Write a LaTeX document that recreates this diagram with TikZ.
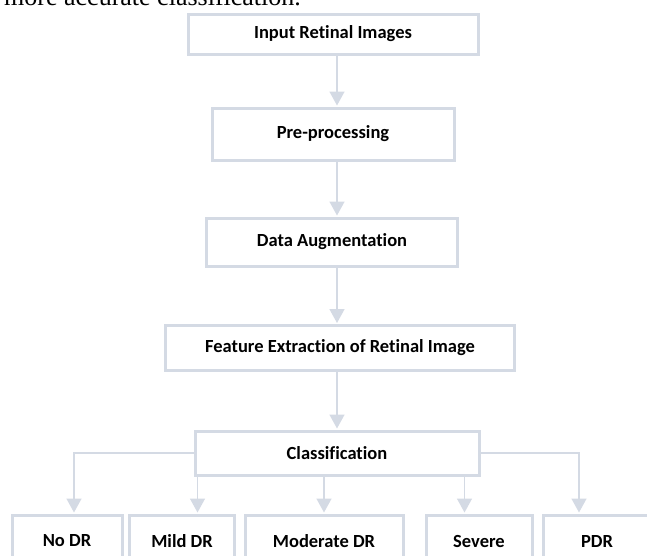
\documentclass[tikz,border=0pt]{standalone}
\usepackage{fontspec}
\setmainfont{Carlito}[Ligatures=NoCommon]
\newfontfamily\leadfont{Liberation Serif}
\usetikzlibrary{arrows.meta}
\definecolor{boxline}{RGB}{212,218,228}
\tikzset{
  stage/.style={draw=boxline, line width=3pt, inner sep=0pt,
    font=\fontsize{18.5}{22}\selectfont\bfseries},
  flow/.style={draw=boxline, line width=1.5pt,
    -{Triangle[width=15pt,length=14pt]}, shorten >=1pt}
}
\begin{document}
\begin{tikzpicture}[x=1pt,y=-1pt]
     \path[use as bounding box, clip] (0,0) rectangle (647,555);
     \node[anchor=base west, inner sep=0pt, font=\leadfont\fontsize{26}{30}\selectfont] (lead) at (4,5) {more accurate classification.};

     \node[stage, minimum width=290pt, minimum height=40pt] (inp) at (333,34) {Input Retinal Images};
     \node[stage, minimum width=242pt, minimum height=52pt] (pre) at (333,134) {Pre-processing};
     \node[stage, minimum width=251pt, minimum height=48pt] (aug) at (332,242) {Data Augmentation};
     \node[stage, minimum width=349pt, minimum height=45pt] (feat) at (340,348) {Feature Extraction of Retinal Image};
     \node[stage, minimum width=284pt, minimum height=44pt] (cls) at (337,453) {Classification};

     \node[stage, minimum width=110pt, minimum height=52pt] (nodr) at (67,541) {No DR};
     \node[stage, minimum width=105pt, minimum height=52pt] (mild) at (182,541) {Mild DR};
     \node[stage, minimum width=158pt, minimum height=52pt] (mod) at (324,541) {Moderate DR};
     \node[stage, minimum width=106pt, minimum height=52pt] (sev) at (479,541) {Severe};
     \node[stage, minimum width=108pt, minimum height=52pt] (pdr) at (597,541) {PDR};

     \draw[flow] (inp.south -| cls) -- (pre.north -| cls);
     \draw[flow] (pre.south -| cls) -- (aug.north -| cls);
     \draw[flow] (aug.south -| cls) -- (feat.north -| cls);
     \draw[flow] (feat.south -| cls) -- (cls.north);

     \draw[flow] (cls.west) -| ([xshift=7pt]nodr.north);
     \draw[flow] ([xshift=4pt]cls.south west) -- ([xshift=4pt]cls.south west |- mild.north);
     \draw[flow] (cls.south -| mod) -- (mod.north);
     \draw[flow] ([xshift=-16pt]cls.south east) -- ([xshift=-16pt]cls.south east |- sev.north);
     \draw[flow] (cls.east) -| ([xshift=-18pt]pdr.north);
    \end{tikzpicture}
\end{document}
